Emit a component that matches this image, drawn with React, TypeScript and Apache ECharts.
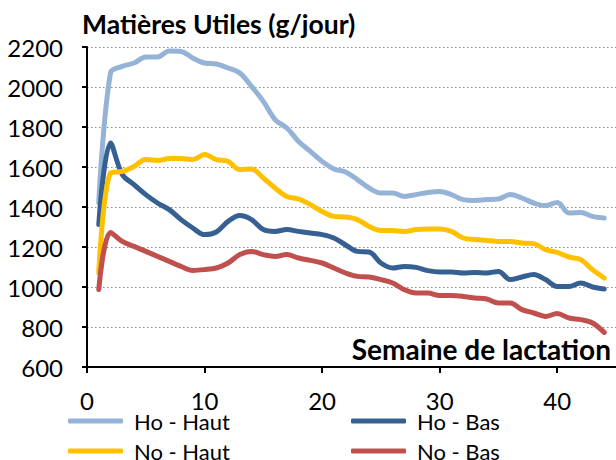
import React, { useEffect, useRef } from "react";
import * as echarts from "echarts";

const weeks = Array.from({ length: 44 }, (_, i) => i + 1);

const hoHaut = [1420, 2070, 2103, 2120, 2150, 2150, 2180, 2178, 2145, 2120, 2115, 2095, 2070, 2003, 1928, 1837, 1795, 1728, 1678, 1628, 1590, 1575, 1537, 1495, 1470, 1470, 1453, 1462, 1473, 1478, 1462, 1437, 1433, 1437, 1440, 1462, 1445, 1420, 1407, 1423, 1370, 1373, 1353, 1345];
const hoBas = [1312, 1720, 1562, 1512, 1462, 1420, 1387, 1337, 1295, 1262, 1275, 1328, 1357, 1337, 1287, 1278, 1287, 1278, 1270, 1262, 1245, 1210, 1178, 1175, 1120, 1095, 1103, 1098, 1082, 1075, 1075, 1070, 1073, 1070, 1078, 1037, 1050, 1062, 1037, 1003, 1003, 1020, 1000, 990];
const noHaut = [1070, 1570, 1578, 1603, 1637, 1633, 1642, 1643, 1637, 1662, 1637, 1628, 1587, 1590, 1545, 1495, 1453, 1440, 1412, 1378, 1353, 1350, 1337, 1303, 1283, 1282, 1278, 1287, 1290, 1290, 1278, 1245, 1237, 1233, 1228, 1228, 1220, 1217, 1187, 1173, 1150, 1137, 1087, 1045];
const noBas = [987, 1273, 1228, 1203, 1178, 1153, 1128, 1103, 1083, 1087, 1095, 1120, 1162, 1178, 1162, 1153, 1162, 1145, 1133, 1120, 1095, 1070, 1053, 1050, 1037, 1020, 987, 970, 970, 957, 957, 953, 945, 940, 920, 920, 887, 870, 853, 867, 845, 837, 820, 773];

const seriesNames = ["Ho - Haut", "Ho - Bas", "No - Haut", "No - Bas"];
const seriesColors = ["#95B3D7", "#376092", "#FFC000", "#C0504D"];
const seriesData = [hoHaut, hoBas, noHaut, noBas];

const titleText = "Matières Utiles (g/jour)";
const xAxisTitle = "Semaine de lactation";

const FONT = "Lato";

export default function App() {
  const ref = useRef<HTMLDivElement>(null);
  useEffect(() => {
    if (!ref.current) return;
    const chart = echarts.init(ref.current, null, { renderer: "svg" });
    const legendBase = {
      orient: "vertical",
      top: 410,
      height: 60,
      padding: 0,
      itemWidth: 55,
      itemHeight: 5,
      itemGap: 8,
      icon: "roundRect",
      textStyle: { fontSize: 22, lineHeight: 20, color: "#000", fontFamily: FONT, padding: [0, 0, 0, 6] },
    };
    chart.setOption({
      animation: false,
      backgroundColor: "#ffffff",
      textStyle: { fontFamily: FONT },
      grid: { left: 87, top: 47, width: 530, height: 320, containLabel: false },
      xAxis: {
        type: "value",
        min: 0,
        max: 45,
        interval: 10,
        axisLine: { show: true, onZero: false, lineStyle: { color: "#000", width: 2 } },
        axisTick: { show: true, length: 6, inside: false, lineStyle: { color: "#000", width: 2 } },
        axisLabel: {
          margin: 25,
          fontSize: 24,
          lineHeight: 16,
          color: "#000",
          fontFamily: FONT,
          showMaxLabel: false,
          formatter: (v: number) => (v % 10 === 0 ? String(v) : ""),
        },
        splitLine: { show: false },
      },
      yAxis: {
        type: "value",
        min: 600,
        max: 2200,
        interval: 200,
        axisLine: { show: true, lineStyle: { color: "#000", width: 2 } },
        axisTick: { show: true, length: 5, lineStyle: { color: "#000", width: 2 } },
        axisLabel: {
          margin: 24,
          fontSize: 24,
          lineHeight: 18,
          color: "#000",
          fontFamily: FONT,
          formatter: (v: number) => String(v),
        },
        splitLine: { show: true, lineStyle: { color: "#8c8c8c", type: [1.5, 2.5], width: 1.2 } },
      },
      legend: [
        { ...legendBase, left: 68, data: ["Ho - Haut", "No - Haut"] },
        { ...legendBase, left: 351, data: ["Ho - Bas", "No - Bas"] },
      ],
      graphic: [
        {
          type: "text",
          left: 82,
          top: 10,
          style: { text: titleText, fontSize: 26.5, fontWeight: "bold", fill: "#000", fontFamily: FONT },
        },
        {
          type: "text",
          right: 5,
          top: 335,
          style: { text: xAxisTitle, fontSize: 28, fontWeight: "bold", fill: "#000", fontFamily: FONT },
        },
      ],
      series: seriesNames.map((name, i) => ({
        name,
        type: "line",
        smooth: 0.35,
        symbol: "none",
        data: weeks.map((w, j) => [w, seriesData[i][j]]),
        lineStyle: { color: seriesColors[i], width: 5, cap: "round", join: "round" },
        itemStyle: { color: seriesColors[i] },
      })),
    });
    return () => chart.dispose();
  }, []);
  return <div ref={ref} style={{ position: "fixed", left: 0, top: 0, width: 616, height: 460 }} />;
}
